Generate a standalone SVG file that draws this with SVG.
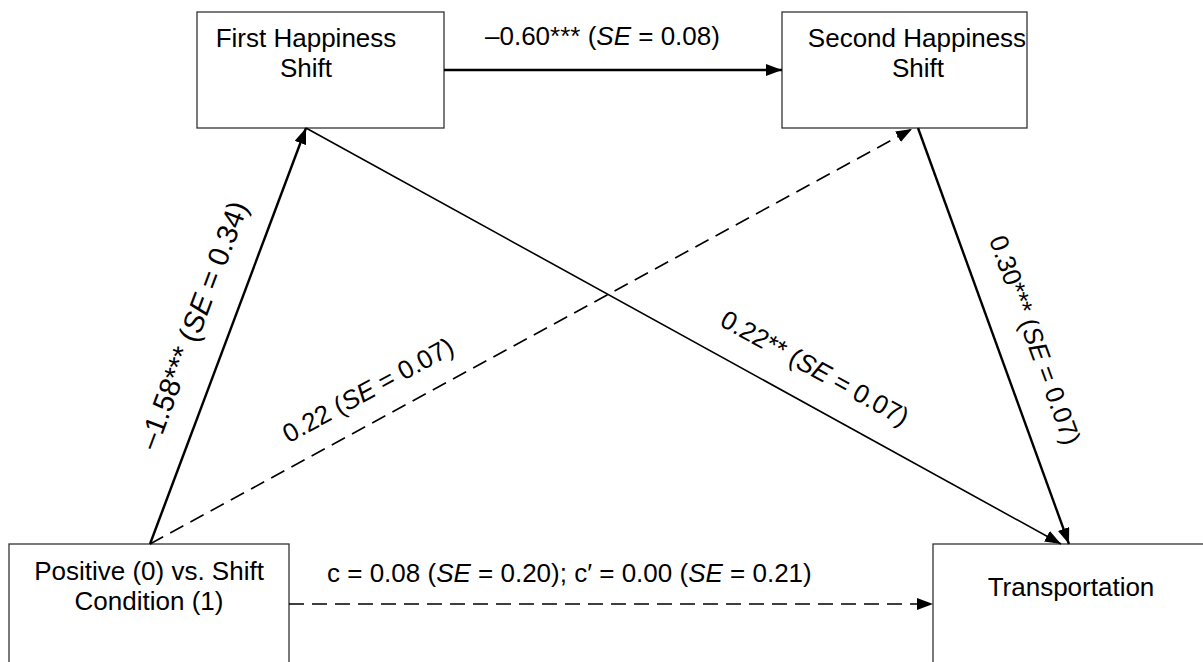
<svg xmlns="http://www.w3.org/2000/svg" width="1203" height="662" viewBox="0 0 1203 662">
  <style>
    .box { fill: #ffffff; stroke: #333333; stroke-width: 1.3; }
    .t { font-family: "Liberation Sans", Arial, sans-serif; font-size: 26px; fill: #000000; }
    .big { font-size: 29px; }
    .i { font-style: italic; }
    .solid { stroke: #000000; fill: none; }
    .dash { stroke: #000000; fill: none; stroke-width: 1.6; stroke-dasharray: 15 8; }
  </style>
  <defs>
    <marker id="ah" viewBox="0 0 16 12" refX="16" refY="6" markerWidth="16" markerHeight="12" markerUnits="userSpaceOnUse" orient="auto">
      <path d="M0,0 L16,6 L0,12 z" fill="#000000"/>
    </marker>
  </defs>
  <rect width="1203" height="662" fill="#ffffff"/>

  <g id="node-first">
    <rect class="box" x="197" y="12" width="247" height="116"/>
    <text class="t" x="306" y="47" text-anchor="middle">First Happiness</text>
    <text class="t" x="306" y="77" text-anchor="middle">Shift</text>
  </g>
  <g id="node-second">
    <rect class="box" x="782" y="12" width="245" height="116"/>
    <text class="t" x="917" y="47" text-anchor="middle">Second Happiness</text>
    <text class="t" x="918" y="77" text-anchor="middle">Shift</text>
  </g>
  <g id="node-condition">
    <rect class="box" x="9" y="544" width="280" height="130"/>
    <text class="t" x="149" y="580" text-anchor="middle">Positive (0) vs. Shift</text>
    <text class="t" x="149" y="610" text-anchor="middle">Condition (1)</text>
  </g>
  <g id="node-transportation">
    <rect class="box" x="933" y="544" width="280" height="130"/>
    <text class="t" x="1071" y="596" text-anchor="middle">Transportation</text>
  </g>

  <g id="connectors">
    <line class="solid" x1="444" y1="70" x2="782" y2="70" stroke-width="2.4" marker-end="url(#ah)"/>
    <line class="solid" x1="150" y1="544" x2="306" y2="128" stroke-width="2.4" marker-end="url(#ah)"/>
    <line class="dash" x1="150" y1="544" x2="912" y2="129" marker-end="url(#ah)"/>
    <line class="solid" x1="306" y1="128" x2="1061" y2="544" stroke-width="1.6" marker-end="url(#ah)"/>
    <line class="solid" x1="918" y1="128" x2="1069" y2="544" stroke-width="2.4" marker-end="url(#ah)"/>
    <line class="dash" x1="289" y1="604" x2="933" y2="604" stroke-width="2" marker-end="url(#ah)"/>
  </g>

  <g id="labels">
    <text class="t" x="485" y="45">–0.60*** (<tspan class="i">SE</tspan> = 0.08)</text>
    <text class="t" x="327" y="582">c = 0.08 (<tspan class="i">SE</tspan> = 0.20); c′ = 0.00 (<tspan class="i">SE</tspan> = 0.21)</text>
    <text class="t big" transform="translate(193,325) rotate(-69.4)" x="0" y="10" text-anchor="middle">–1.58*** (<tspan class="i">SE</tspan> = 0.34)</text>
    <text class="t" transform="translate(368,390) rotate(-28.6)" x="0" y="9" text-anchor="middle">0.22 (<tspan class="i">SE</tspan> = 0.07)</text>
    <text class="t" transform="translate(815,368) rotate(28.9)" x="0" y="9" text-anchor="middle">0.22** (<tspan class="i">SE</tspan> = 0.07)</text>
    <text class="t" transform="translate(1035,340) rotate(69.9)" x="0" y="9" text-anchor="middle">0.30*** (<tspan class="i">SE</tspan> = 0.07)</text>
  </g>
</svg>
